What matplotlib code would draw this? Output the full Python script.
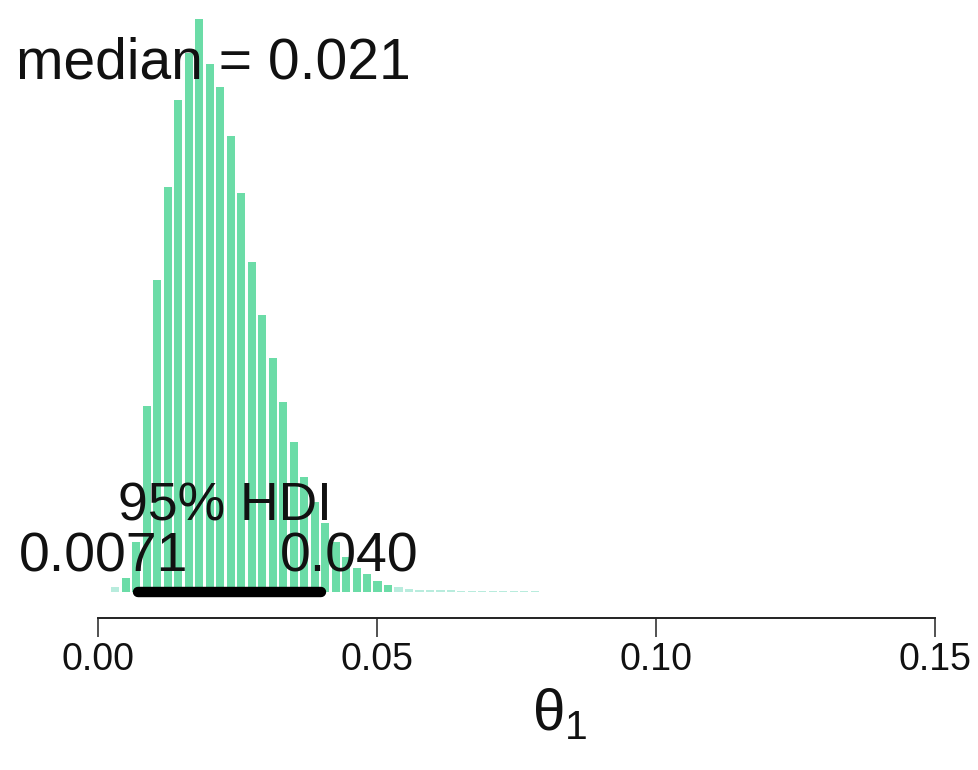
import matplotlib
matplotlib.use("Agg")
import matplotlib.pyplot as plt
import numpy as np

# ---- data ----
bin_start = 0.00216
bin_width = 0.00188
densities = [0.44, 1.3, 4.4, 16.3, 27.3, 35.4, 43.0, 47.1, 50.0, 46.1, 44.1,
             39.8, 34.9, 28.8, 24.2, 20.5, 16.6, 13.1, 10.1, 7.9, 6.1, 4.4,
             3.1, 2.1, 1.6, 0.96, 0.61, 0.44, 0.30, 0.22, 0.20, 0.18, 0.17,
             0.16, 0.15, 0.15, 0.14, 0.14, 0.13, 0.13, 0.12]
median_val = 0.021
hdi_low, hdi_high = 0.0071, 0.040
hdi_low_label, hdi_high_label = "0.0071", "0.040"
xticks = [0.00, 0.05, 0.10, 0.15]
xtick_labels = ["0.00", "0.05", "0.10", "0.15"]

plt.rcParams['font.family'] = ['Liberation Sans', 'DejaVu Sans']
plt.rcParams['mathtext.default'] = 'regular'

fig = plt.figure(figsize=(9.79, 7.70), dpi=100)
ax = fig.add_axes([0, 0, 1, 1])
ax.set_xlim(-0.01756, 0.15789)
ax.set_ylim(-15.5, 51.7)

centers = bin_start + bin_width * (np.arange(len(densities)) + 0.5)
cols = ['#6bdca7' if d > 0.5 else '#b8ecdd' for d in densities]
ax.bar(centers, densities, width=bin_width * 0.77, color=cols,
       edgecolor='none', linewidth=0, zorder=2)

ax.plot([hdi_low, hdi_high], [0, 0], color='black', lw=7.5,
        solid_capstyle='round', zorder=3)

ax.text(median_val - 0.0004, 0.8987, f"median = {median_val:.3f}", transform=ax.get_xaxis_transform(),
        ha='center', va='baseline', fontsize=41, color='#111111', zorder=4)
ax.text((hdi_low + hdi_high) / 2 - 0.0008, 0.3234, "95% HDI", transform=ax.get_xaxis_transform(),
        ha='center', va='baseline', fontsize=38.5, color='#111111', zorder=4)
for val, lab, frac in [(hdi_low, hdi_low_label, 0.7), (hdi_high, hdi_high_label, 0.3)]:
    t = ax.text(val, 0.2584, lab, transform=ax.get_xaxis_transform(),
                ha='left', va='baseline', fontsize=40, color='#111111', zorder=4)
    fig.canvas.draw()
    bb = t.get_window_extent()
    x_disp = ax.transData.transform((val, 0))[0] - frac * bb.width
    x_data = ax.transData.inverted().transform((x_disp, 0))[0]
    t.set_x(x_data)

for s in ['top', 'right', 'left']:
    ax.spines[s].set_visible(False)
ax.spines['bottom'].set_position(('axes', 1 - 618 / 770))
ax.spines['bottom'].set_bounds(xticks[0], xticks[-1])
ax.spines['bottom'].set_linewidth(1.4)
ax.spines['bottom'].set_color('#222222')
ax.set_xticks(xticks)
ax.set_xticklabels(xtick_labels)
ax.tick_params(axis='x', direction='out', length=13.5, width=1.1, color='#222222',
               labelsize=27, pad=4, labelcolor='#111111')
ax.set_yticks([])
ax.patch.set_visible(False)

fig.text(560 / 979, 1 - 730 / 770, "θ$_1$", ha='center', va='baseline', fontsize=42,
         color='#111111')

fig.savefig("out.png", dpi=100)
